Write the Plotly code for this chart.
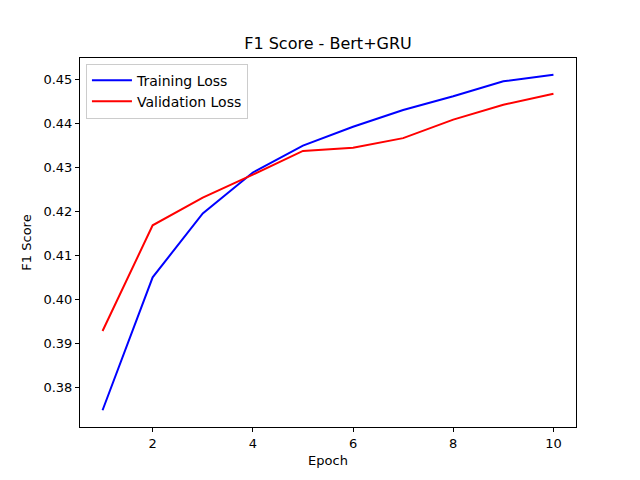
import plotly.graph_objects as go

epochs = [1, 2, 3, 4, 5, 6, 7, 8, 9, 10]
train_f1 = [0.3748, 0.4050, 0.4195, 0.4288, 0.4349, 0.4392, 0.4430, 0.4461, 0.4495, 0.4510]
val_f1 = [0.3928, 0.4168, 0.4231, 0.4283, 0.4337, 0.4344, 0.4366, 0.4408, 0.4442, 0.4467]
x_ticks = [2, 4, 6, 8, 10]
y_ticks = [0.38, 0.39, 0.40, 0.41, 0.42, 0.43, 0.44, 0.45]

fig = go.Figure()
fig.add_trace(go.Scatter(x=epochs, y=train_f1, mode="lines", name="Training Loss",
                         line=dict(color="blue", width=2)))
fig.add_trace(go.Scatter(x=epochs, y=val_f1, mode="lines", name="Validation Loss",
                         line=dict(color="red", width=2)))

axis_style = dict(showline=True, linecolor="black", linewidth=1, mirror=True,
                  ticks="outside", ticklen=4, tickcolor="black", showgrid=False,
                  zeroline=False, tickfont=dict(size=13, color="black"))

fig.update_xaxes(range=[0.55, 10.45], tickvals=x_ticks,
                 title=dict(text="Epoch", font=dict(size=13, color="black"), standoff=6),
                 **axis_style)
fig.update_yaxes(range=[0.3710, 0.4548], tickvals=y_ticks,
                 ticktext=[f"{v:.2f}" for v in y_ticks],
                 title=dict(text="F1 Score", font=dict(size=13, color="black"), standoff=8),
                 **axis_style)

# page adds an 8px body margin, so the figure is sized to fit the window
fig.update_layout(
    width=632, height=472,
    margin=dict(l=72, r=64, t=50, b=53),
    paper_bgcolor="white", plot_bgcolor="white",
    font=dict(family="DejaVu Sans", color="black"),
    title=dict(text="F1 Score - Bert+GRU", x=0.5 + 4 / 632, xanchor="center",
               y=1 - 35 / 472, yanchor="middle", font=dict(size=16, color="black")),
    legend=dict(x=0.012, y=0.985, xanchor="left", yanchor="top", itemwidth=40,
                bgcolor="rgba(255,255,255,0.8)", bordercolor="#cccccc", borderwidth=1,
                font=dict(size=14, color="black")),
)

fig.write_html("out.html")
